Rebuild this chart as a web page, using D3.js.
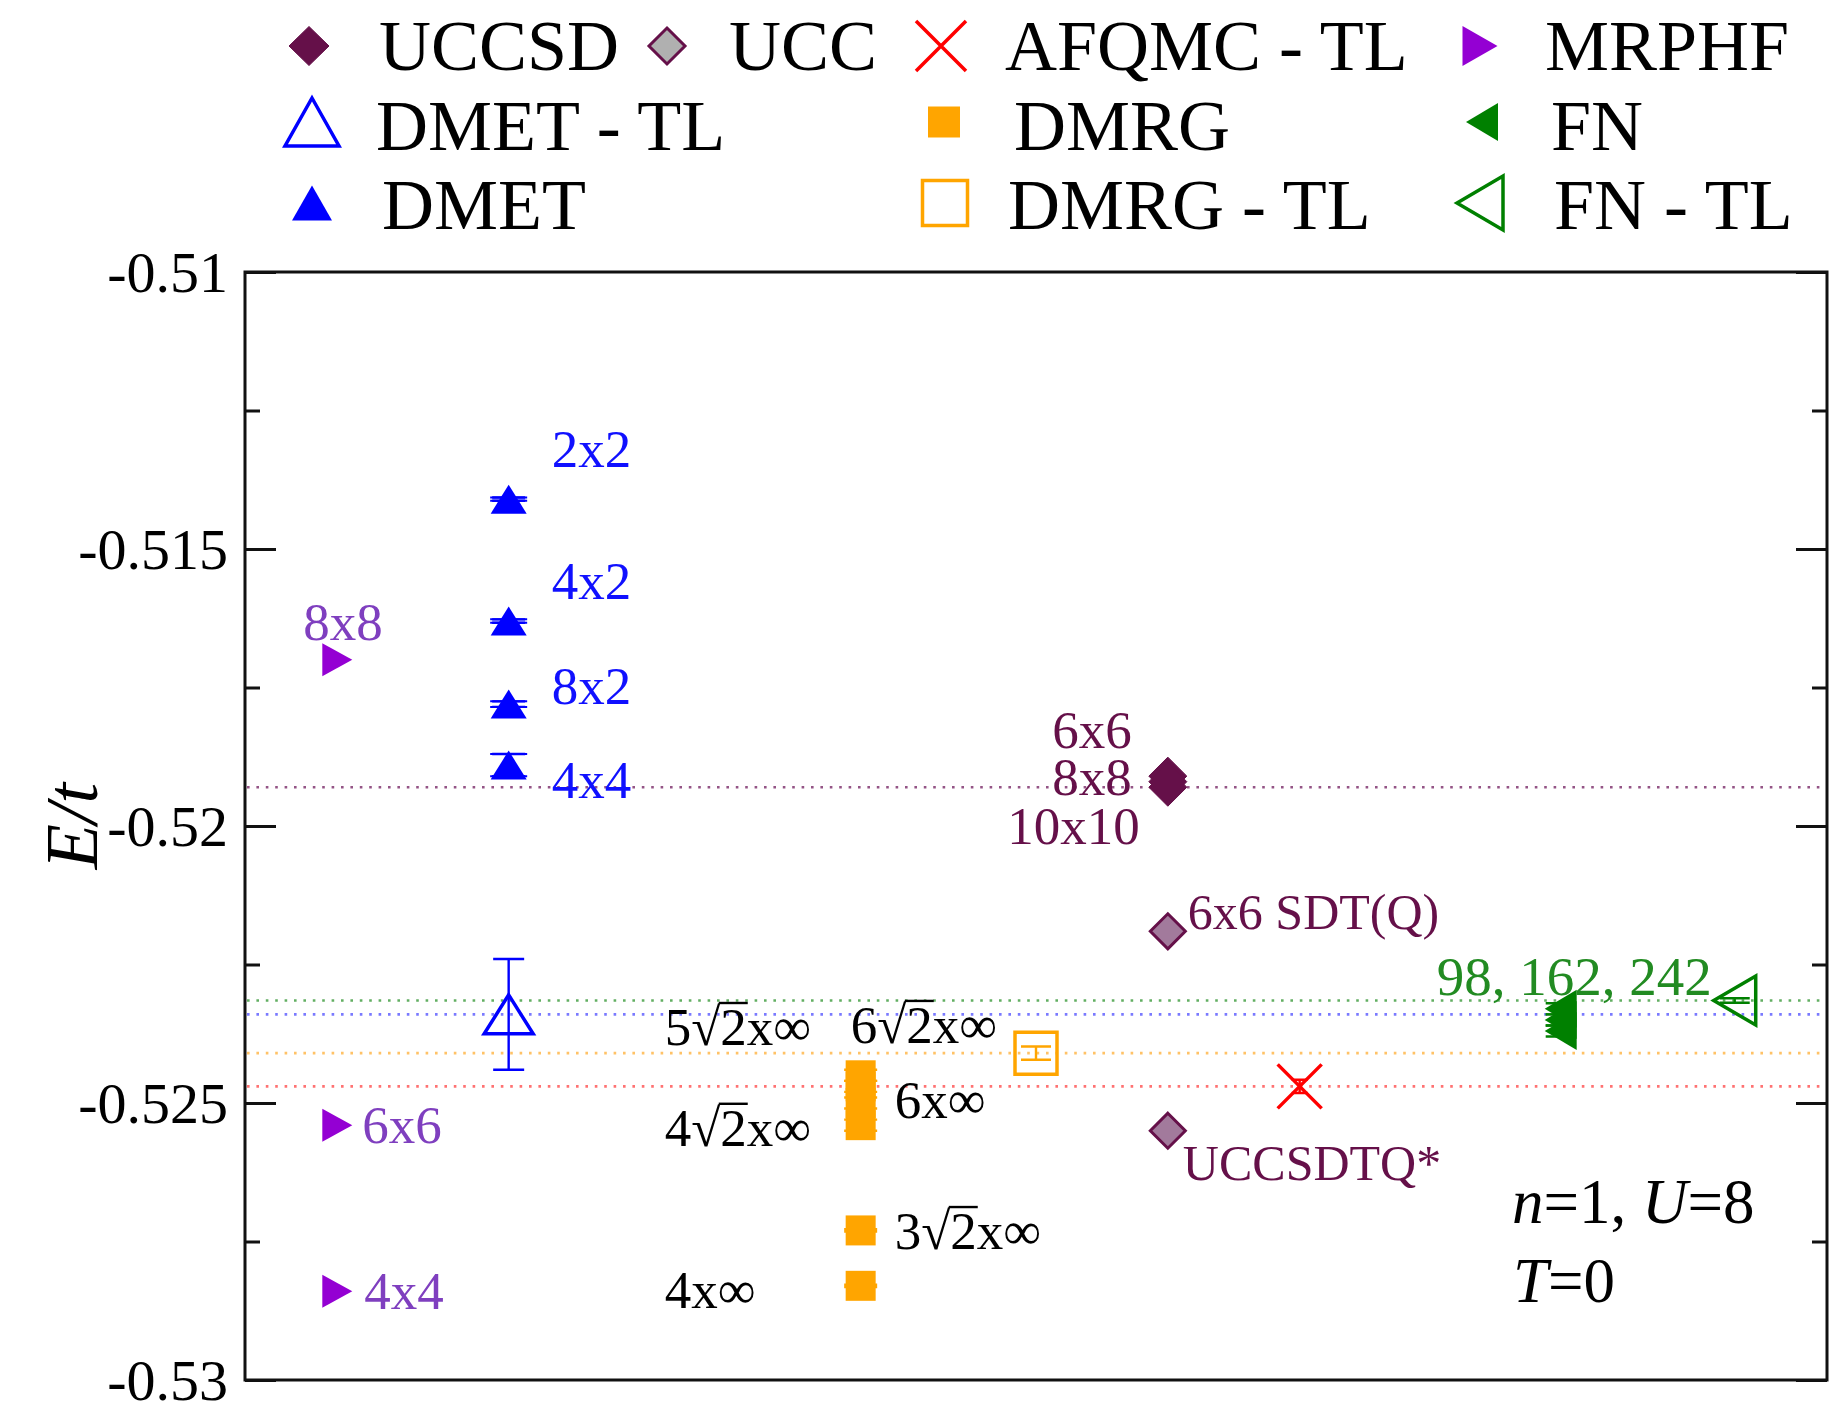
<!DOCTYPE html>
<html>
<head>
<meta charset="utf-8">
<script src="https://cdn.jsdelivr.net/npm/d3@7"></script>
<style>
  html, body { margin: 0; padding: 0; background: #fff; }
  svg { display: block; font-family: "Liberation Serif", "Times New Roman", serif; }
</style>
</head>
<body>
<svg id="chart" width="1830" height="1407"></svg>
<script>
// ---------------- data ----------------
const yTicks = [-0.51, -0.515, -0.52, -0.525, -0.53];
const yTickLabels = ["-0.51", "-0.515", "-0.52", "-0.525", "-0.53"];
const yMinorTicks = [-0.5125, -0.5175, -0.5225, -0.5275];

const seriesNames = ["UCCSD", "UCC", "AFQMC - TL", "MRPHF", "DMET - TL", "DMRG", "FN", "DMET", "DMRG - TL", "FN - TL"];

// column of each method along the (unlabelled) horizontal axis
const methodColumn = { "MRPHF": 0.7, "DMET": 2, "DMET - TL": 2, "DMRG": 4.67, "DMRG - TL": 6,
                       "UCCSD": 7, "UCC": 7, "AFQMC - TL": 8, "FN": 9.98, "FN - TL": 11.3 };

const mrphfSizes = ["8x8", "6x6", "4x4"];
const mrphfE = [-0.5170, -0.5254, -0.5284];

const dmetSizes = ["2x2", "4x2", "8x2", "4x4"];
const dmetE = [-0.5141, -0.5163, -0.5178, -0.5189];
const dmetErr = [0.00003, 0.00003, 0.00005, 0.0002];

const dmetTlE = [-0.5234];
const dmetTlErr = [0.001];

const dmrgSizes = ["6√2x∞", "5√2x∞", "6x∞", "4√2x∞", "3√2x∞", "4x∞"];
const dmrgE = [-0.5245, -0.5247, -0.5250, -0.5254, -0.5273, -0.5283];
const dmrgErr = [0.0001, 0.0001, 0.0001, 0.0001, 0.00002, 0.00002];

const dmrgTlE = [-0.5241];
const dmrgTlErr = [0.00012];

const uccsdSizes = ["6x6", "8x8", "10x10"];
const uccsdE = [-0.5191, -0.5192, -0.5193];

const uccLabels = ["6x6 SDT(Q)", "UCCSDTQ*"];
const uccE = [-0.5219, -0.5255];

const afqmcTlE = [-0.5247];
const afqmcTlErr = [0.00012];

const fnSites = ["98", "162", "242"];
const fnE = [-0.5237, -0.5235, -0.5233];
const fnErr = [0.0001, 0.0001, 0.0001];

const fnTlE = [-0.52315];
const fnTlErr = [0.00004];

// ---------------- styles ----------------
const seriesStyle = {
  "UCCSD":      { shape: "diamond",  stroke: "#651049", fill: "#651049", w: 38, h: 38, lw: 1,   lg: [40, 39] },
  "UCC":        { shape: "diamond",  stroke: "#651049", fill: "#a27a9c", lgFill: "#b0b0b0", w: 35, h: 35, lw: 3, lg: [36, 36] },
  "AFQMC - TL": { shape: "cross",    stroke: "#ff0000", fill: "none",    w: 44, h: 44, lw: 3.5, lg: [50, 50] },
  "MRPHF":      { shape: "triRight", stroke: "#9400d3", fill: "#9400d3", w: 30, h: 33, lw: 0,   lg: [35, 40] },
  "DMET - TL":  { shape: "triUp",    stroke: "#0000ff", fill: "none",    w: 49, h: 39, lw: 3.5, lg: [54, 48] },
  "DMRG":       { shape: "square",   stroke: "#ffa500", fill: "#ffa500", w: 30, h: 30, lw: 0,   lg: [32, 31] },
  "FN":         { shape: "triLeft",  stroke: "#008000", fill: "#008000", w: 32, h: 38, lw: 0,   lg: [32, 38] },
  "DMET":       { shape: "triUp",    stroke: "#0000ff", fill: "#0000ff", w: 36, h: 29, lw: 0,   lg: [40, 35] },
  "DMRG - TL":  { shape: "square",   stroke: "#ffa500", fill: "none",    w: 42, h: 42, lw: 3.5, lg: [45, 45] },
  "FN - TL":    { shape: "triLeft",  stroke: "#008000", fill: "none",    w: 42, h: 49, lw: 3.5, lg: [46, 54] }
};
const capWidth = { "DMET": 33, "DMET - TL": 31, "DMRG": 33, "DMRG - TL": 30, "AFQMC - TL": 16, "FN": 30, "FN - TL": 30 };

const labelColor = { "MRPHF": "#7f3fbf", "DMET": "#1010ff", "UCCSD": "#651049", "UCC": "#651049", "FN": "#228b22", "DMRG": "#000000" };
const labelSize = { "MRPHF": 53, "DMET": 53, "UCCSD": 53, "UCC": 50, "FN": 55, "DMRG": 53 };

// ---------------- assemble points ----------------
const points = [
  ...mrphfE.map((e, i) => ({ s: "MRPHF", e, err: 0, label: mrphfSizes[i] })),
  ...dmetE.map((e, i) => ({ s: "DMET", e, err: dmetErr[i], label: dmetSizes[i] })),
  ...dmetTlE.map((e, i) => ({ s: "DMET - TL", e, err: dmetTlErr[i] })),
  ...dmrgE.map((e, i) => ({ s: "DMRG", e, err: dmrgErr[i], label: dmrgSizes[i] })),
  ...dmrgTlE.map((e, i) => ({ s: "DMRG - TL", e, err: dmrgTlErr[i] })),
  ...uccsdE.map((e, i) => ({ s: "UCCSD", e, err: 0, label: uccsdSizes[i] })),
  ...uccE.map((e, i) => ({ s: "UCC", e, err: 0, label: uccLabels[i] })),
  ...afqmcTlE.map((e, i) => ({ s: "AFQMC - TL", e, err: afqmcTlErr[i] })),
  ...fnE.map((e, i) => ({ s: "FN", e, err: fnErr[i], label: i === fnE.length - 1 ? fnSites.join(", ") : null })),
  ...fnTlE.map((e, i) => ({ s: "FN - TL", e, err: fnTlErr[i] }))
];

// label placement relative to its point: [dx, dy of text centre, anchor]
const labelPlace = {
  "MRPHF|8x8": [-34, -38, "start"], "MRPHF|6x6": [25, 0, "start"], "MRPHF|4x4": [27, 0, "start"],
  "DMET|2x2": [43, -50, "start"], "DMET|4x2": [43, -40, "start"], "DMET|8x2": [43, -18, "start"], "DMET|4x4": [43, 15, "start"],
  "UCCSD|6x6": [-36, -46, "end"], "UCCSD|8x8": [-36, -5, "end"], "UCCSD|10x10": [-28, 39, "end"],
  "UCC|6x6 SDT(Q)": [20, -19, "start"], "UCC|UCCSDTQ*": [15, 32, "start"],
  "FN|98, 162, 242": [-124, -33, "start"],
  "DMRG|6√2x∞": [-10, -50, "start"], "DMRG|5√2x∞": [-196, -59, "start"], "DMRG|6x∞": [34, -3, "start"],
  "DMRG|4√2x∞": [-196, 3, "start"], "DMRG|3√2x∞": [34, 1, "start"], "DMRG|4x∞": [-196, 4, "start"]
};

// dotted reference lines for the extrapolated / largest-system results
const refLines = [
  { v: uccsdE[2],   color: "#7a2a68" },
  { v: fnTlE[0],    color: "#3c9c3c" },
  { v: dmetTlE[0],  color: "#5a5aff" },
  { v: dmrgTlE[0],  color: "#ffb340" },
  { v: afqmcTlE[0], color: "#ff5050" }
];

// ---------------- layout ----------------
const margin = { left: 245, top: 272 };
const pw = 1582, ph = 1108;

const x = d3.scaleLinear().domain([0, 12]).range([0, pw]);
const y = d3.scaleLinear().domain([-0.51, -0.53]).range([0, ph]);

const svg = d3.select("#chart");
const g = svg.append("g").attr("transform", `translate(${margin.left},${margin.top})`);

function markerPath(shape, w, h) {
  const a = w / 2, b = h / 2;
  switch (shape) {
    case "diamond":  return `M0,${-b}L${a},0L0,${b}L${-a},0Z`;
    case "triUp":    return `M0,${-b}L${a},${b}L${-a},${b}Z`;
    case "triRight": return `M${a},0L${-a},${b}L${-a},${-b}Z`;
    case "triLeft":  return `M${-a},0L${a},${-b}L${a},${b}Z`;
    case "square":   return `M${-a},${-b}H${a}V${b}H${-a}Z`;
    case "cross":    return `M${-a},${-b}L${a},${b}M${a},${-b}L${-a},${b}`;
  }
}

// reference lines
g.append("g").selectAll("line").data(refLines).join("line")
  .attr("x1", 2).attr("x2", pw - 2)
  .attr("y1", d => y(d.v)).attr("y2", d => y(d.v))
  .attr("stroke", d => d.color)
  .attr("stroke-width", 2.6)
  .attr("stroke-dasharray", "2.6 6.8")
  .attr("opacity", 0.8);

// axes (ticks inside, on both sides)
function styleAxis(sel) {
  sel.select(".domain").remove();
  sel.selectAll(".tick line").attr("stroke", "#111").attr("stroke-width", 3);
}
const axL = g.append("g")
  .call(d3.axisLeft(y).tickValues(yTicks).tickFormat((d, i) => yTickLabels[i])
        .tickSizeInner(-31).tickSizeOuter(0).tickPadding(17))
  .call(styleAxis);
axL.attr("font-family", null).attr("font-size", null);
axL.selectAll(".tick text").attr("font-size", 58).attr("fill", "#000").attr("dy", "0.34em");

g.append("g")
  .call(d3.axisLeft(y).tickValues(yMinorTicks).tickFormat("").tickSizeInner(-15).tickSizeOuter(0))
  .call(styleAxis);
g.append("g").attr("transform", `translate(${pw},0)`)
  .call(d3.axisRight(y).tickValues(yTicks).tickFormat("").tickSizeInner(-31).tickSizeOuter(0))
  .call(styleAxis);
g.append("g").attr("transform", `translate(${pw},0)`)
  .call(d3.axisRight(y).tickValues(yMinorTicks).tickFormat("").tickSizeInner(-15).tickSizeOuter(0))
  .call(styleAxis);

// frame
g.append("rect").attr("x", 0).attr("y", 0).attr("width", pw).attr("height", ph)
  .attr("fill", "none").attr("stroke", "#111").attr("stroke-width", 3);

// error bars
const errG = g.append("g");
points.filter(p => p.err > 0).forEach(p => {
  const st = seriesStyle[p.s];
  const cx = x(methodColumn[p.s]);
  const y1 = y(p.e + p.err), y2 = y(p.e - p.err);
  const cw = capWidth[p.s] / 2;
  errG.append("path")
    .attr("d", `M${cx},${y1}V${y2}M${cx - cw},${y1}H${cx + cw}M${cx - cw},${y2}H${cx + cw}`)
    .attr("stroke", st.stroke).attr("stroke-width", 2.4).attr("fill", "none");
});

// markers
g.append("g").selectAll("path").data(points).join("path")
  .attr("transform", p => `translate(${x(methodColumn[p.s])},${y(p.e)})`)
  .attr("d", p => { const st = seriesStyle[p.s]; return markerPath(st.shape, st.w, st.h); })
  .attr("fill", p => seriesStyle[p.s].fill)
  .attr("stroke", p => seriesStyle[p.s].stroke)
  .attr("stroke-width", p => seriesStyle[p.s].lw)
  .attr("stroke-linejoin", "miter");

// caps of the filled DMET triangles, repeated on top so their ends show
points.filter(p => p.err > 0 && p.s === "DMET").forEach(p => {
  const cx = x(methodColumn[p.s]);
  const cw = capWidth[p.s] / 2 + 2;
  [p.e + p.err, p.e - p.err].forEach(v => {
    g.append("line").attr("x1", cx - cw).attr("x2", cx + cw).attr("y1", y(v)).attr("y2", y(v))
      .attr("stroke", "#0000ff").attr("stroke-width", 2);
  });
});

// point labels; a radical gets a vinculum over its digit
const labG = g.append("g");
function addLabel(t, txt, fs, color) {
  const m = txt.match(/^(.*√)(\d)(.*)$/);
  t.text(txt);
  if (!m) return;
  const node = t.node();
  const iRad = m[1].length - 1, iDig = m[1].length;
  const p0 = node.getEndPositionOfChar(iRad);
  const p1 = node.getEndPositionOfChar(iDig);
  const yTop = p0.y - 0.80 * fs;
  labG.append("line")
    .attr("x1", p0.x - 1.5).attr("x2", p1.x + 1)
    .attr("y1", yTop).attr("y2", yTop)
    .attr("stroke", color).attr("stroke-width", 2.4);
}
points.filter(p => p.label).forEach(p => {
  const pl = labelPlace[p.s + "|" + p.label];
  if (!pl) return;
  const fs = labelSize[p.s];
  const t = labG.append("text")
    .attr("x", x(methodColumn[p.s]) + pl[0])
    .attr("y", y(p.e) + pl[1])
    .attr("dy", "0.34em")
    .attr("font-size", fs)
    .attr("text-anchor", pl[2])
    .attr("fill", labelColor[p.s]);
  addLabel(t, p.label, fs, labelColor[p.s]);
});

// parameter annotation
const ann = g.append("g").attr("font-size", 63).attr("fill", "#000");
const a1 = ann.append("text").attr("x", 1267).attr("y", 951);
a1.append("tspan").attr("font-style", "italic").text("n");
a1.append("tspan").text("=1, ");
a1.append("tspan").attr("font-style", "italic").text("U");
a1.append("tspan").text("=8");
const a2 = ann.append("text").attr("x", 1268).attr("y", 1030);
a2.append("tspan").attr("font-style", "italic").text("T");
a2.append("tspan").text("=0");

// y-axis title
svg.append("text")
  .attr("transform", `translate(97,${margin.top + ph / 2}) rotate(-90)`)
  .attr("text-anchor", "middle")
  .attr("font-size", 74)
  .attr("font-style", "italic")
  .text("E/t");

// ---------------- legend ----------------
const legendLayout = {
  "UCCSD":      [309, 379, 0], "UCC":       [667, 729, 0], "AFQMC - TL": [941, 1005, 0], "MRPHF": [1480, 1545, 0],
  "DMET - TL":  [312, 376, 1], "DMRG":      [944, 1014, 1], "FN":        [1482, 1551, 1],
  "DMET":       [312, 382, 2], "DMRG - TL": [945, 1008, 2], "FN - TL":   [1480, 1554, 2]
};
const rowSymY = [46, 122, 203];
const rowBase = [70, 150, 229];
const leg = svg.append("g").attr("font-size", 72);
seriesNames.forEach(name => {
  const st = seriesStyle[name];
  const [sx, tx, row] = legendLayout[name];
  leg.append("path")
    .attr("transform", `translate(${sx},${rowSymY[row]})`)
    .attr("d", markerPath(st.shape, st.lg[0], st.lg[1]))
    .attr("fill", st.lgFill || st.fill)
    .attr("stroke", st.stroke)
    .attr("stroke-width", st.lw);
  leg.append("text").attr("x", tx).attr("y", rowBase[row]).attr("fill", "#000").text(name);
});
</script>
</body>
</html>
